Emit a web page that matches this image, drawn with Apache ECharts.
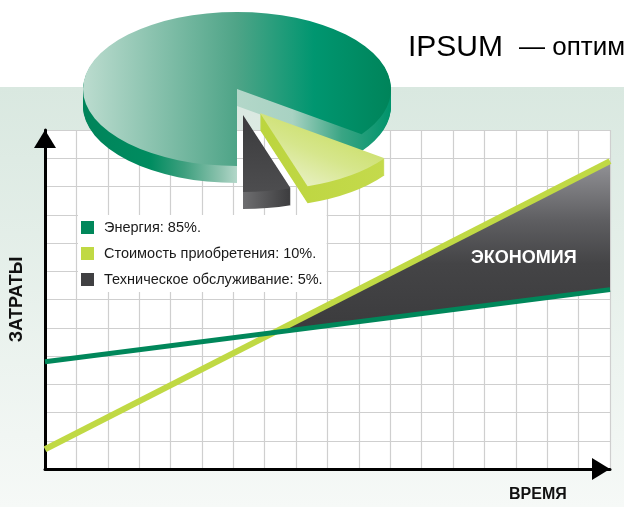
<!DOCTYPE html>
<html>
<head>
<meta charset="utf-8">
<script src="https://cdn.jsdelivr.net/npm/echarts@6/dist/echarts.min.js"></script>
<style>
  html, body { margin: 0; padding: 0; }
  #chart { width: 624px; height: 507px; }
</style>
</head>
<body>
<div id="chart"></div>
<script>
// структура затрат (пирог)
const sliceNames = ['Энергия', 'Стоимость приобретения', 'Техническое обслуживание'];
const sliceValues = [85, 10, 5];
// прямые затрат: время от 0 до 18 клеток, затраты от 0 до 12 клеток
const timeSteps = [0, 18];
const ipsumCost = [3.8, 6.35];
const standardCost = [0.7, 10.9];

const green = '#00875a';
const lime = '#c0d944';
const dark = '#404042';
const sans = "'Liberation Sans', Arial, sans-serif";

// точка пересечения прямых -> начало области экономии
const slopeIpsum = (ipsumCost[1] - ipsumCost[0]) / (timeSteps[1] - timeSteps[0]);
const slopeStd = (standardCost[1] - standardCost[0]) / (timeSteps[1] - timeSteps[0]);
const xCross = timeSteps[0] + (ipsumCost[0] - standardCost[0]) / (slopeStd - slopeIpsum);
const yCross = ipsumCost[0] + slopeIpsum * (xCross - timeSteps[0]);
// [время, нижняя граница, верхняя граница]
const savingPoints = [
  [xCross, yCross, yCross],
  [timeSteps[1], ipsumCost[1], standardCost[1]]
];

// объёмный пирог
const pieCenter = [237, 89];
const pieRx = 154, pieRy = 77, pieDepth = 17;
const sliceShift = [[0, 0], [23, 24], [6, 26]];

function lin(x, y, x2, y2, stops) {
  return {
    type: 'linear', x: x, y: y, x2: x2, y2: y2,
    colorStops: stops.map(function (s) { return { offset: s[0], color: s[1] }; })
  };
}

const sliceFills = [
  {
    top: lin(0, 0, 1, 0, [[0, '#bcdccf'], [0.5, '#4ea487'], [0.75, '#009670'], [1, '#00845a']]),
    side: lin(0, 0, 1, 0, [[0, '#00845a'], [0.22, '#008c60'], [0.33, '#3fa07f'], [0.45, '#8fc4b0'], [0.5, '#b3d7c9'], [0.68, '#a8d2c2'], [0.84, '#3aa584'], [1, '#00936b']])
  },
  {
    top: lin(0, 1, 1, 0, [[0, '#f0f5dc'], [0.45, '#d6e68c'], [1, '#c2d94a']]),
    side: lin(0, 0, 1, 0, [[0, '#bcd53e'], [1, '#c4da4c']])
  },
  {
    top: lin(0, 0, 0, 1, [[0, '#3b3b3d'], [1, '#4d4d4f']]),
    side: lin(0, 0, 1, 0, [[0, '#6e6e70'], [1, '#3c3c3e']])
  }
];

function sliceRenderer(index) {
  return function () {
    const total = sliceValues.reduce(function (a, b) { return a + b; }, 0);
    let start = Math.PI / 2;
    for (let i = 0; i < index; i++) start += sliceValues[i] / total * Math.PI * 2;
    const end = start + sliceValues[index] / total * Math.PI * 2;
    const k = pieRx / pieRy;
    const children = [];
    for (let j = pieDepth; j >= 1; j--) {
      children.push({
        type: 'sector',
        shape: { cx: 0, cy: j * k, r: pieRx, startAngle: start, endAngle: end },
        style: { fill: sliceFills[index].side }
      });
    }
    children.push({
      type: 'sector',
      shape: { cx: 0, cy: 0, r: pieRx, startAngle: start, endAngle: end },
      style: { fill: sliceFills[index].top }
    });
    return {
      type: 'group',
      x: pieCenter[0] + sliceShift[index][0],
      y: pieCenter[1] + sliceShift[index][1],
      scaleY: 1 / k,
      children: children
    };
  };
}

const sliceColors = [green, lime, dark];
const pieSeries = sliceNames.map(function (name, i) {
  return {
    type: 'custom',
    name: name,
    coordinateSystem: 'none',
    z: 6,
    silent: true,
    itemStyle: { color: sliceColors[i] },
    data: [sliceValues[i]],
    renderItem: sliceRenderer(i)
  };
});

const chart = echarts.init(document.getElementById('chart'));
chart.setOption({
  animation: false,
  graphic: [{
    type: 'rect',
    z: -10,
    shape: { x: 0, y: 87, width: 624, height: 420 },
    style: { fill: lin(0, 0, 0, 1, [[0, '#d9e8e0'], [1, '#f6f9f7']]) }
  }],
  title: [
    {
      left: 408, top: 33, padding: 0,
      text: '{a|IPSUM}{b|— оптим}',
      textStyle: {
        rich: {
          a: { fontSize: 30, fontWeight: 'normal', fontFamily: sans, color: '#000' },
          b: { fontSize: 26, fontWeight: 'normal', fontFamily: sans, color: '#000', padding: [0, 0, 0, 16] }
        }
      }
    },
    {
      left: 509, top: 487, padding: 0, text: 'ВРЕМЯ',
      textStyle: { fontSize: 16, fontWeight: 'bold', fontFamily: sans, color: '#111' }
    },
    {
      left: 471, top: 249, padding: 0, text: 'ЭКОНОМИЯ',
      textStyle: { fontSize: 18, fontWeight: 'bold', fontFamily: sans, color: '#fff' }
    }
  ],
  legend: {
    data: sliceNames,
    orient: 'vertical',
    left: 78, top: 215,
    padding: [5, 4, 5, 3],
    backgroundColor: '#fff',
    icon: 'rect',
    itemWidth: 13, itemHeight: 13, itemGap: 11,
    selectedMode: false,
    textStyle: { fontSize: 14.5, fontFamily: sans, color: '#1a1a1a', padding: [0, 0, 0, 5] },
    formatter: function (name) {
      return name + ': ' + sliceValues[sliceNames.indexOf(name)] + '%.';
    }
  },
  grid: { left: 43, right: 14, top: 130, bottom: 38, show: true, backgroundColor: '#fff', borderWidth: 0 },
  xAxis: {
    type: 'value', min: 0, max: 18, interval: 1,
    axisLine: {
      lineStyle: { color: '#000', width: 3 },
      symbol: ['none', 'triangle'], symbolSize: [22, 18], symbolOffset: [0, -9]
    },
    axisTick: { show: false },
    axisLabel: { show: false },
    splitLine: { lineStyle: { color: '#cfcfcf', width: 1.2 } }
  },
  yAxis: {
    type: 'value', min: 0, max: 12, interval: 1,
    name: 'ЗАТРАТЫ', nameLocation: 'middle', nameGap: 19, nameRotate: 90,
    nameTextStyle: { fontSize: 18, fontWeight: 'bold', fontFamily: sans, color: '#111' },
    axisLine: {
      lineStyle: { color: '#000', width: 3 },
      symbol: ['none', 'triangle'], symbolSize: [22, 18], symbolOffset: [0, -9]
    },
    axisTick: { show: false },
    axisLabel: { show: false },
    splitLine: { lineStyle: { color: '#cfcfcf', width: 1.2 } }
  },
  series: [
    {
      type: 'custom', coordinateSystem: 'cartesian2d', silent: true, z: 1,
      encode: { x: 0, y: [1, 2] },
      data: savingPoints,
      renderItem: function (params, api) {
        if (params.dataIndex !== 0) return;
        const upper = savingPoints.map(function (p) { return api.coord([p[0], p[2]]); });
        const lower = savingPoints.map(function (p) { return api.coord([p[0], p[1]]); }).reverse();
        return {
          type: 'polygon',
          shape: { points: upper.concat(lower) },
          style: { fill: lin(0, 0, 0, 1, [[0, '#939397'], [0.35, '#5e5e61'], [0.6, '#444446'], [1, '#3b3b3d']]) }
        };
      }
    },
    {
      type: 'line', symbol: 'none', silent: true,
      lineStyle: { color: lime, width: 6 },
      data: timeSteps.map(function (t, i) { return [t, standardCost[i]]; })
    },
    {
      type: 'line', symbol: 'none', silent: true,
      lineStyle: { color: green, width: 5 },
      data: timeSteps.map(function (t, i) { return [t, ipsumCost[i]]; })
    }
  ].concat(pieSeries)
});
</script>
</body>
</html>
